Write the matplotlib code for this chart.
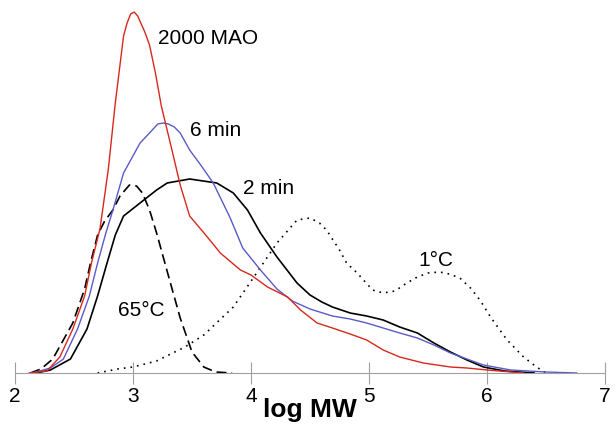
import matplotlib
matplotlib.use("Agg")
import matplotlib.pyplot as plt

plt.rcParams["font.family"] = ["Liberation Sans", "DejaVu Sans"]

# log MW positions and detector response
red_x = [2.12, 2.27, 2.38, 2.49, 2.59, 2.65, 2.72, 2.79, 2.85, 2.92, 2.95, 2.98, 3.01, 3.04,
         3.07, 3.1, 3.14, 3.19, 3.24, 3.33, 3.40, 3.48, 3.63, 3.74, 3.91, 4.0, 4.14, 4.31, 4.42,
         4.56, 4.69, 4.84, 4.98, 5.12, 5.26, 5.46, 5.69, 5.83, 6.0, 6.31]
red_y = [0, 2, 16, 44, 77, 111, 144, 203, 270, 337, 350, 359, 361, 357,
         349, 341, 328, 300, 267, 223, 188, 157, 136, 120, 103, 98, 86, 76, 63,
         50, 45, 39, 33, 23, 16, 10, 6, 5, 3, 0]

blue_x = [2.15, 2.3, 2.41, 2.53, 2.63, 2.7, 2.77, 2.83, 2.92, 3.06, 3.14, 3.21, 3.26, 3.30,
          3.35, 3.40, 3.48, 3.58, 3.68, 3.82, 3.93, 4.08, 4.22, 4.35, 4.5, 4.69, 4.84, 4.98,
          5.12, 5.26, 5.41, 5.55, 5.69, 5.83, 5.97, 6.2, 6.5, 6.76]
blue_y = [0, 5, 14, 44, 77, 110, 140, 163, 200, 230, 240, 249, 250, 249,
          246, 240, 223, 207, 190, 156, 125, 103, 84, 72, 64, 57, 54, 50,
          45, 40, 35, 28, 20, 14, 8, 3, 1, 0]

black_x = [2.18, 2.3, 2.47, 2.61, 2.70, 2.78, 2.85, 2.92, 3.06, 3.20, 3.29, 3.48, 3.71, 3.85,
           3.97, 4.08, 4.22, 4.39, 4.5, 4.6, 4.69, 4.84, 4.98, 5.12, 5.26, 5.41, 5.55, 5.69,
           5.83, 5.97, 6.15, 6.4]
black_y = [0, 3, 14, 44, 77, 110, 138, 157, 170, 183, 190, 194, 190, 180,
           163, 140, 116, 90, 78, 71, 66, 60, 57, 53, 46, 40, 30, 21,
           13, 6, 2, 0]

dash_x = [2.13, 2.22, 2.32, 2.49, 2.59, 2.64, 2.70, 2.76, 2.83, 2.89, 2.97, 3.03, 3.08, 3.14,
          3.20, 3.31, 3.4, 3.5, 3.6, 3.7, 3.84]
dash_y = [0, 4, 14, 50, 84, 110, 138, 152, 163, 177, 188, 187, 180, 163,
          140, 93, 55, 21, 6, 1, 0]

dot_x = [2.70, 2.87, 3.0, 3.2, 3.44, 3.6, 3.85, 3.99, 4.22, 4.39, 4.5, 4.58, 4.64, 4.75,
         4.81, 4.9, 5.03, 5.12, 5.22, 5.32, 5.41, 5.5, 5.6, 5.68, 5.77, 5.86, 5.94, 6.03, 6.17,
         6.31, 6.42, 6.5]
dot_y = [0, 4, 6, 12, 26, 38, 66, 90, 130, 153, 155, 150, 143, 123,
         110, 100, 83, 80, 82, 90, 96, 100, 101, 99, 95, 85, 73, 56, 33,
         16, 6, 0]

ticks = [2, 3, 4, 5, 6, 7]

fig = plt.figure(figsize=(6.16, 4.24), dpi=100)
ax = fig.add_axes([15 / 616, 51 / 424, 590 / 616, 365 / 424])

ax.plot(dot_x, dot_y, color="black", lw=1.2, linestyle=(0, (1, 3)))
ax.plot(dash_x, dash_y, color="black", lw=1.2, linestyle=(0, (6, 3)))
ax.plot(black_x, black_y, color="black", lw=1.2)
ax.plot(blue_x, blue_y, color="#5a5ac8", lw=1.0)
ax.plot(red_x, red_y, color="#d8281e", lw=1.0)

ax.text(3.21, 335, "2000 MAO", fontsize=15, va="center")
ax.text(3.48, 242, "6 min", fontsize=15, va="center")
ax.text(3.93, 185, "2 min", fontsize=15, va="center")
ax.text(5.42, 113, "1°C", fontsize=15, va="center")
ax.text(2.87, 63, "65°C", fontsize=15, va="center")

ax.set_xlim(2, 7)
ax.set_ylim(0, 365)
ax.set_xticks(ticks)
ax.set_xticklabels([str(t) for t in ticks], fontsize=15)
ax.set_yticks([])
for side in ["left", "top", "right"]:
    ax.spines[side].set_visible(False)
ax.spines["bottom"].set_color("#a0a0a0")
ax.tick_params(axis="x", direction="inout", length=16, color="#a0a0a0", pad=2)
ax.set_xlabel("log MW", fontsize=19, fontweight="bold", labelpad=-6)
ax.patch.set_visible(False)

fig.savefig("out.png", dpi=100)
